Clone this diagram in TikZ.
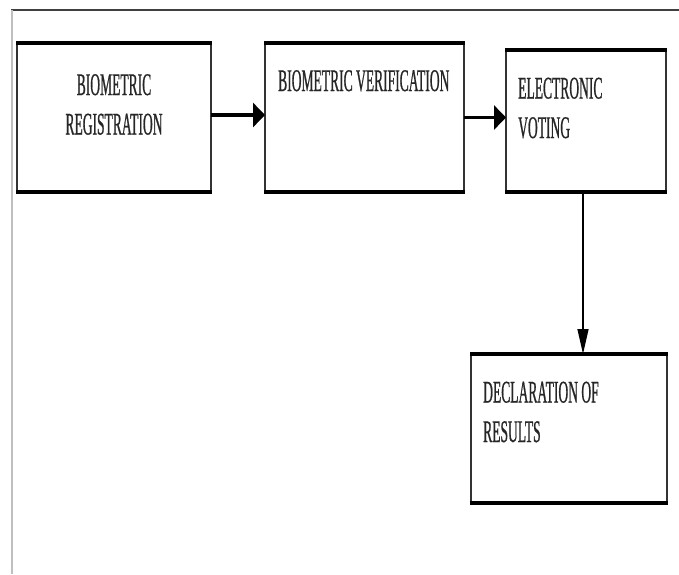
\documentclass[tikz,border=0pt]{standalone}
\usepackage{fontspec}
\setmainfont{Liberation Serif}
\newfontfamily\narrowfont[FakeStretch=0.43,FakeBold=0.6]{Liberation Serif}
\usetikzlibrary{arrows.meta}
\begin{document}
\begin{tikzpicture}[x=1pt,y=-1pt,
  box/.style={draw=black!80, line width=1.4pt, rectangle, inner sep=0pt, outer sep=0pt},
  edge/.style={line width=3.4pt, black},
  lbl/.style={font=\narrowfont\fontsize{31.5}{39.5}\selectfont, inner sep=0pt, text=black!85},
  thickarrow/.style={line width=3.6pt, -{Triangle[length=12pt,width=24pt]}},
  thinarrow/.style={line width=1.4pt, -{Triangle[length=25pt,width=11pt]}}]
\useasboundingbox (0,0) rectangle (679,574);
\fill[white] (0,0) rectangle (679,574);
% frame
\draw[black!75, line width=1.6pt] (11,10) -- (679,10);
\draw[black!25, line width=2pt] (12,10) -- (12,574);
% boxes
\node[box, minimum width=194pt, minimum height=149pt] (b1) at (114,117.5) {};
\node[box, minimum width=199pt, minimum height=149pt] (b2) at (364.5,117.5) {};
\node[box, minimum width=160pt, minimum height=142pt] (b3) at (586,121) {};
\node[box, minimum width=196pt, minimum height=149pt] (b4) at (569,428.5) {};
\foreach \b in {b1,b2,b3,b4}{
  \draw[edge] ([xshift=-0.7pt]\b.north west) -- ([xshift=0.7pt]\b.north east);
  \draw[edge] ([xshift=-0.7pt]\b.south west) -- ([xshift=0.7pt]\b.south east);
}
% texts (base anchor = baseline of last line)
\node[lbl, anchor=base, align=center] (t1) at (114,134.5) {BIOMETRIC\\REGISTRATION};
\node[lbl, anchor=base west] (t2) at (278,91) {BIOMETRIC VERIFICATION};
\node[lbl, anchor=base west, align=left] (t3) at (518,138) {ELECTRONIC\\VOTING};
\node[lbl, anchor=base west, align=left] (t4) at (483,442) {DECLARATION OF\\RESULTS};
% arrows
\draw[thickarrow] ([yshift=2.5pt]b1.east) -- ([yshift=2.5pt]b1.east -| b2.west);
\draw[thickarrow] (b2.east) -- (b2.east -| b3.west);
\draw[thinarrow] ([xshift=-3pt]b3.south) -- ([xshift=-3pt]b3.south |- b4.north);
\end{tikzpicture}
\end{document}
